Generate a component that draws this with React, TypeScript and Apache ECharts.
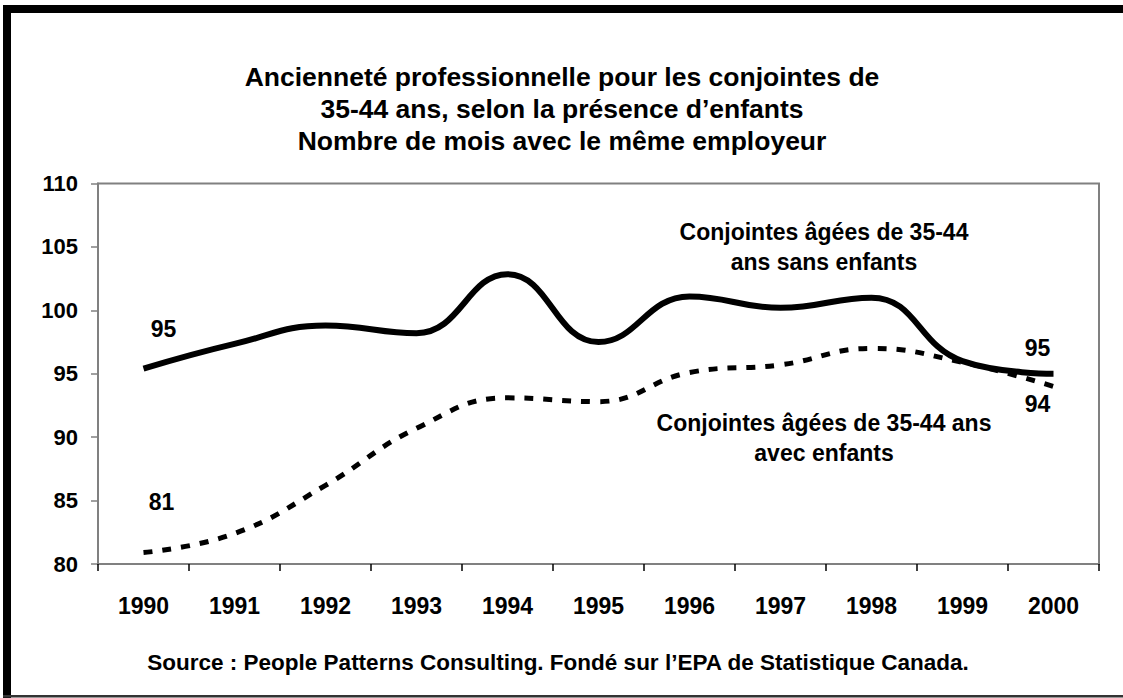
import React, { useEffect, useRef } from "react";
import * as echarts from "echarts";

const years = ["1990", "1991", "1992", "1993", "1994", "1995", "1996", "1997", "1998", "1999", "2000"];
const sansEnfants = [95.4, 97.35, 98.8, 98.2, 102.85, 97.5, 101.1, 100.2, 101.0, 96.0, 95.0];
const avecEnfants = [80.9, 82.4, 86.2, 90.7, 93.1, 92.8, 95.1, 95.7, 97.0, 95.9, 94.0];
const sansEndLabels = ["95", "95"];
const avecEndLabels = ["81", "94"];

const titleLines = [
  "Ancienneté professionnelle pour les conjointes de",
  "35-44 ans, selon la présence d\u2019enfants",
  "Nombre de mois avec le même employeur",
];
const sansLabel = "Conjointes âgées de 35-44\nans sans enfants";
const avecLabel = "Conjointes âgées de 35-44 ans\navec enfants";
const sourceText = "Source : People Patterns Consulting. Fondé sur l\u2019EPA de Statistique Canada.";

const FONT = '"Liberation Sans", Arial, sans-serif';

function withEndLabels(values: number[], texts: string[], offsets: number[][]) {
  const last = values.length - 1;
  return values.map((v, i) => {
    if (i === 0 || i === last) {
      const k = i === 0 ? 0 : 1;
      return {
        value: v,
        label: {
          show: true,
          position: "inside",
          offset: offsets[k],
          formatter: () => texts[k],
          color: "#000",
          fontFamily: FONT,
          fontWeight: "bold",
          fontSize: 23,
        },
      };
    }
    return { value: v };
  });
}

export default function App() {
  const ref = useRef<HTMLDivElement>(null);
  useEffect(() => {
    if (!ref.current) return;
    const chart = echarts.init(ref.current, undefined, { renderer: "svg" });
    chart.setOption({
      animation: false,
      backgroundColor: "#fff",
      grid: {
        left: 98,
        right: 24,
        top: 183.5,
        bottom: 134,
        show: true,
        borderColor: "#808080",
        borderWidth: 2,
        backgroundColor: "transparent",
      },
      xAxis: {
        type: "category",
        data: years,
        boundaryGap: true,
        axisLine: { lineStyle: { color: "#808080", width: 2 } },
        axisTick: { show: true, length: 7, inside: false, lineStyle: { color: "#000", width: 1.5 } },
        axisLabel: {
          color: "#000",
          fontFamily: FONT,
          fontWeight: "bold",
          fontSize: 23,
          margin: 30,
        },
        splitLine: { show: false },
      },
      yAxis: {
        type: "value",
        min: 80,
        max: 110,
        interval: 5,
        axisLine: { show: true, lineStyle: { color: "#808080", width: 2 } },
        axisTick: { show: true, length: 7, lineStyle: { color: "#808080", width: 1.5 } },
        axisLabel: {
          color: "#000",
          fontFamily: FONT,
          fontWeight: "bold",
          fontSize: 22,
          margin: 20,
        },
        splitLine: { show: false },
      },
      series: [
        {
          name: "avec enfants",
          type: "line",
          smooth: 0.45,
          symbol: "circle",
          symbolSize: 1,
          itemStyle: { color: "rgba(0,0,0,0)" },
          lineStyle: { color: "#000", width: 5, type: [9, 10], cap: "butt" },
          data: withEndLabels(avecEnfants, avecEndLabels, [[18, -51], [-16, 18]]),
          z: 2,
        },
        {
          name: "sans enfants",
          type: "line",
          smooth: 0.45,
          symbol: "circle",
          symbolSize: 1,
          itemStyle: { color: "rgba(0,0,0,0)" },
          lineStyle: { color: "#000", width: 6 },
          data: withEndLabels(sansEnfants, sansEndLabels, [[20, -40], [-16, -26]]),
          z: 3,
        },
      ],
      graphic: [
        { type: "rect", shape: { x: 3, y: 5, width: 1120, height: 8 }, style: { fill: "#000" } },
        { type: "rect", shape: { x: 3, y: 5, width: 8, height: 693 }, style: { fill: "#000" } },
        { type: "rect", shape: { x: 3, y: 695, width: 1120, height: 2.5 }, style: { fill: "#333" } },
        ...titleLines.map((t, i) => ({
          type: "text",
          x: 562,
          y: 77 + i * 32,
          style: {
            text: t,
            fill: "#000",
            font: `bold 26.5px ${FONT}`,
            textAlign: "center",
            textVerticalAlign: "middle",
          },
        })),
        {
          type: "text",
          x: 824,
          y: 247,
          style: {
            text: sansLabel,
            fill: "#000",
            font: `bold 23px ${FONT}`,
            lineHeight: 30,
            textAlign: "center",
            textVerticalAlign: "middle",
          },
        },
        {
          type: "text",
          x: 824,
          y: 438,
          style: {
            text: avecLabel,
            fill: "#000",
            font: `bold 23px ${FONT}`,
            lineHeight: 30,
            textAlign: "center",
            textVerticalAlign: "middle",
          },
        },
        {
          type: "text",
          x: 558,
          y: 662,
          style: {
            text: sourceText,
            fill: "#000",
            font: `bold 22.5px ${FONT}`,
            textAlign: "center",
            textVerticalAlign: "middle",
          },
        },
      ],
    });
    return () => chart.dispose();
  }, []);
  return (
    <div
      ref={ref}
      style={{ position: "fixed", left: 0, top: 0, width: 1123, height: 698, background: "#fff" }}
    />
  );
}
